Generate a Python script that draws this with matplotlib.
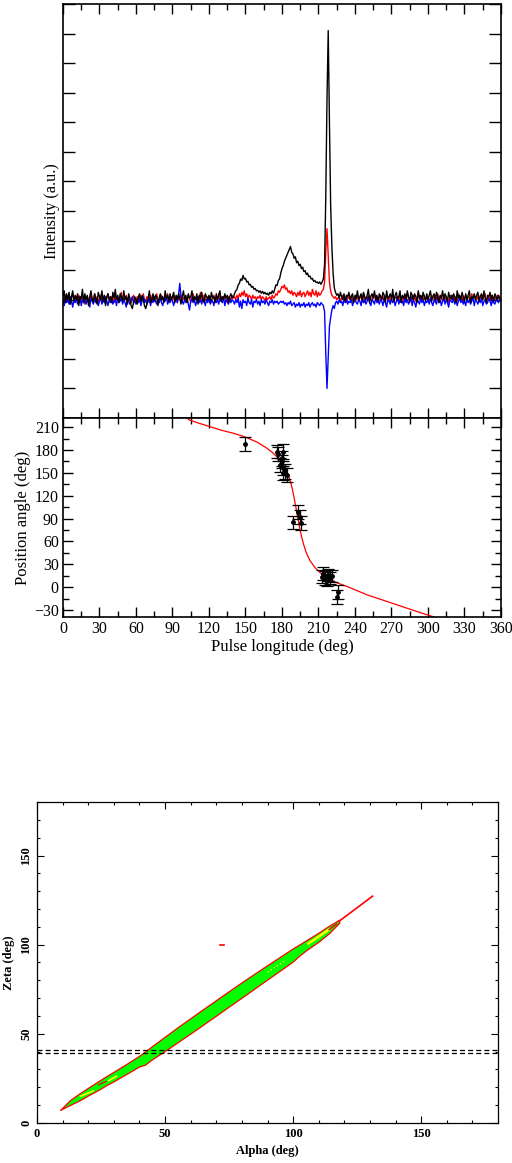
import matplotlib
matplotlib.use("Agg")
import matplotlib.pyplot as plt
from matplotlib.ticker import MultipleLocator
import numpy as np

plt.rcParams['font.family'] = ['Liberation Serif', 'DejaVu Serif']

# ---- pulse profile, 1 deg bins (0..359), arbitrary units ----
stokes_i = [
    0.10, 0.30, -0.10, 0.20, 0.00, 0.25, -0.15, 0.10, 0.30, -0.05, 0.15, 0.00, 0.20, -0.20, 0.10, 0.05, 0.35, -0.10, 0.20, 0.00,
    0.15, -0.20, 0.10, 0.30, 0.00, -0.10, 0.20, 0.05, -0.15, 0.25, 0.10, 0.00, 0.30, -0.05, 0.15, -0.20, 0.10, 0.20, 0.00, 0.10,
    -0.10, 0.25, 0.05, 0.35, 0.00, 0.15, -0.10, 0.20, 0.10, -0.05, 0.30, 0.00, 0.10, -0.15, 0.20, 0.05, -0.20, -0.30, -0.10, 0.10,
    0.00, -0.15, 0.10, 0.20, -0.05, 0.15, 0.00, -0.20, -0.30, -0.15, 0.05, 0.30, -0.10, 0.00, 0.20, -0.05, 0.15, 0.10, -0.20, 0.05,
    0.20, 0.00, 0.10, -0.10, 0.30, 0.05, 0.15, -0.05, 0.20, 0.00, 0.10, 0.25, -0.10, 0.15, 0.00, 0.20, 0.05, -0.15, 0.10, 0.30,
    0.00, 0.15, -0.10, 0.20, 0.05, 0.10, 0.30, -0.05, 0.10, 0.00, 0.20, -0.15, 0.15, 0.05, 0.25, 0.00, -0.10, 0.20, 0.10, 0.00,
    0.15, -0.05, 0.25, 0.05, 0.10, -0.10, 0.20, 0.00, 0.15, 0.30, -0.05, 0.10, 0.00, 0.20, 0.05, 0.15, -0.10, 0.10, 0.20, 0.05,
    0.10, 0.20, 0.30, 0.35, 0.50, 0.55, 0.70, 0.65, 0.82, 0.70, 0.72, 0.60, 0.62, 0.50, 0.52, 0.42, 0.45, 0.35, 0.38, 0.30,
    0.32, 0.25, 0.30, 0.22, 0.28, 0.20, 0.25, 0.18, 0.22, 0.15, 0.25, 0.20, 0.30, 0.22, 0.35, 0.50, 0.48, 0.65, 0.70, 0.90,
    1.05, 1.15, 1.30, 1.40, 1.50, 1.60, 1.70, 1.80, 1.60, 1.55, 1.40, 1.45, 1.25, 1.30, 1.15, 1.20, 1.05, 1.10, 0.95, 0.98,
    0.85, 0.90, 0.78, 0.80, 0.70, 0.72, 0.62, 0.65, 0.58, 0.60, 0.55, 0.60, 0.52, 0.60, 0.70, 1.20, 3.50, 6.80, 9.10, 6.00,
    3.20, 1.80, 0.90, 0.40, 0.25, 0.15, 0.20, 0.05, 0.25, 0.10, 0.00, 0.20, -0.05, 0.15, 0.10, 0.25, 0.00, 0.10, 0.20, -0.10,
    0.15, 0.05, 0.30, 0.00, 0.10, 0.20, -0.05, 0.25, 0.10, 0.00, 0.15, 0.35, -0.10, 0.10, 0.20, 0.05, 0.30, 0.00, 0.15, -0.05,
    0.20, 0.10, 0.00, 0.25, 0.15, -0.10, 0.30, 0.05, 0.10, 0.20, 0.00, 0.35, -0.05, 0.15, 0.25, 0.00, 0.10, 0.30, -0.10, 0.15,
    0.05, 0.20, 0.00, 0.30, 0.10, -0.05, 0.25, 0.15, 0.00, 0.20, 0.10, -0.10, 0.30, 0.05, 0.15, 0.00, 0.25, 0.10, -0.05, 0.20,
    0.00, 0.15, 0.30, -0.05, 0.10, 0.20, 0.00, 0.25, 0.10, -0.10, 0.15, 0.05, 0.30, 0.00, 0.20, 0.10, -0.05, 0.25, 0.05, 0.15,
    0.00, 0.20, 0.10, -0.10, 0.30, 0.05, 0.15, 0.00, 0.25, 0.10, -0.05, 0.20, 0.00, 0.15, 0.30, -0.10, 0.10, 0.05, 0.20, 0.00,
    0.15, 0.25, -0.05, 0.10, 0.20, 0.00, 0.30, 0.05, -0.10, 0.15, 0.10, 0.25, 0.00, 0.15, -0.05, 0.20, 0.10, 0.00, 0.15, 0.05,
]

stokes_l = [
    0.05, -0.10, 0.15, 0.00, -0.05, 0.10, -0.15, 0.05, 0.20, -0.05, 0.00, 0.10, -0.10, 0.15, 0.05, -0.05, 0.10, 0.00, -0.15, 0.05,
    0.10, 0.00, -0.10, 0.15, 0.05, -0.05, 0.20, 0.00, 0.10, -0.10, 0.05, 0.15, -0.05, 0.00, 0.10, -0.15, 0.05, 0.20, 0.00, -0.05,
    0.10, 0.05, -0.10, 0.15, 0.00, 0.05, -0.05, 0.10, 0.25, -0.10, 0.05, 0.00, 0.15, -0.05, 0.10, 0.00, -0.10, 0.05, 0.15, 0.00,
    -0.05, 0.10, 0.00, 0.15, -0.10, 0.05, 0.20, 0.00, -0.05, 0.10, 0.05, -0.10, 0.15, 0.00, 0.05, -0.05, 0.10, 0.20, 0.00, -0.10,
    0.05, 0.15, 0.00, -0.05, 0.10, 0.00, 0.20, -0.10, 0.05, 0.10, -0.05, 0.15, 0.00, 0.05, -0.10, 0.10, 0.00, 0.15, -0.05, 0.05,
    0.10, -0.05, 0.00, 0.15, 0.05, -0.10, 0.10, 0.20, 0.00, 0.05, -0.05, 0.10, 0.00, 0.25, -0.10, 0.05, 0.15, 0.00, -0.05, 0.10,
    0.00, 0.10, -0.10, 0.05, 0.15, 0.00, 0.05, -0.05, 0.20, 0.00, 0.10, -0.05, 0.05, 0.15, 0.00, -0.10, 0.10, 0.05, 0.00, 0.15,
    0.05, 0.10, 0.00, 0.15, 0.05, 0.20, 0.10, 0.25, 0.15, 0.30, 0.10, 0.20, 0.05, 0.15, 0.10, 0.00, 0.15, 0.05, 0.10, 0.00,
    0.10, 0.05, 0.15, 0.00, 0.10, 0.05, -0.05, 0.10, 0.00, 0.05, 0.10, 0.00, 0.15, 0.05, 0.10, 0.20, 0.15, 0.30, 0.25, 0.35,
    0.45, 0.40, 0.50, 0.35, 0.40, 0.25, 0.30, 0.20, 0.30, 0.15, 0.25, 0.20, 0.10, 0.25, 0.15, 0.30, 0.10, 0.20, 0.25, 0.10,
    0.20, 0.30, 0.15, 0.25, 0.10, 0.35, 0.20, 0.15, 0.30, 0.10, 0.25, 0.15, 0.20, 0.30, 0.35, 0.60, 1.60, 2.40, 1.50, 0.60,
    0.30, 0.15, 0.10, 0.05, 0.10, 0.00, 0.05, 0.10, -0.05, 0.05, 0.15, 0.00, 0.05, -0.10, 0.10, 0.05, 0.00, 0.15, -0.05, 0.05,
    0.10, 0.00, 0.15, -0.05, 0.05, 0.10, 0.00, 0.20, -0.10, 0.05, 0.10, 0.00, 0.15, 0.05, -0.05, 0.10, 0.20, 0.00, 0.05, -0.10,
    0.05, 0.15, 0.00, 0.10, -0.05, 0.05, 0.20, 0.00, 0.10, -0.10, 0.05, 0.15, 0.00, 0.05, 0.10, -0.05, 0.00, 0.15, 0.05, 0.10,
    -0.05, 0.10, 0.00, 0.20, 0.05, -0.10, 0.10, 0.00, 0.15, 0.05, -0.05, 0.10, 0.25, 0.00, 0.05, 0.10, -0.05, 0.15, 0.00, 0.05,
    0.10, 0.00, -0.05, 0.15, 0.05, 0.10, -0.10, 0.05, 0.20, 0.00, 0.10, 0.05, -0.05, 0.15, 0.00, 0.10, 0.05, -0.10, 0.10, 0.00,
    0.15, 0.05, 0.00, 0.10, -0.05, 0.20, 0.05, 0.00, 0.10, -0.10, 0.05, 0.15, 0.00, 0.10, 0.05, -0.05, 0.20, 0.00, 0.10, 0.05,
    0.00, 0.10, -0.05, 0.15, 0.05, 0.00, 0.10, 0.20, -0.05, 0.05, 0.10, 0.00, 0.15, -0.10, 0.05, 0.10, 0.00, 0.15, 0.05, 0.00,
]

stokes_v = [
    -0.05, -0.20, 0.05, -0.10, 0.00, -0.15, 0.10, -0.05, -0.25, 0.00, -0.10, 0.05, -0.15, -0.05, 0.10, -0.20, 0.00, -0.10, 0.05, -0.15,
    0.00, -0.10, -0.25, 0.05, -0.05, -0.15, 0.10, -0.10, 0.00, -0.20, -0.05, 0.05, -0.15, 0.00, -0.10, 0.10, -0.05, -0.20, 0.00, -0.10,
    0.05, -0.15, -0.05, 0.00, -0.20, 0.05, -0.10, -0.05, 0.10, -0.15, 0.00, -0.10, -0.25, 0.05, -0.05, -0.15, 0.00, 0.10, -0.10, -0.05,
    -0.15, 0.00, -0.10, 0.05, -0.20, -0.05, 0.10, -0.10, 0.00, -0.15, -0.05, 0.05, -0.20, 0.00, -0.10, 0.10, -0.05, -0.15, 0.00, -0.10,
    0.05, -0.10, -0.20, 0.00, -0.05, 0.10, -0.15, 0.00, -0.10, 0.05, -0.05, -0.20, 0.00, 0.10, -0.10, 0.15, 0.55, 0.10, -0.05, -0.15,
    0.00, -0.10, 0.05, -0.15, -0.35, -0.05, 0.05, -0.10, 0.00, -0.20, -0.05, 0.10, -0.10, 0.00, -0.15, 0.05, -0.05, -0.20, 0.00, -0.10,
    0.05, -0.15, 0.00, -0.05, -0.20, 0.05, -0.10, 0.00, -0.15, 0.05, -0.05, -0.10, 0.10, -0.20, 0.00, -0.05, -0.15, 0.05, -0.10, 0.00,
    -0.05, -0.15, 0.00, -0.10, 0.05, -0.25, -0.05, -0.30, 0.00, -0.10, -0.05, -0.20, 0.05, -0.10, -0.15, 0.00, -0.25, -0.05, -0.10, 0.00,
    -0.15, -0.05, -0.20, 0.00, -0.10, -0.05, -0.15, 0.00, -0.10, -0.20, -0.05, -0.10, 0.00, -0.15, -0.05, -0.10, -0.05, -0.15, -0.10, -0.05,
    -0.10, -0.05, -0.15, -0.10, -0.20, -0.10, -0.15, -0.05, -0.20, -0.15, -0.10, -0.25, -0.15, -0.20, -0.10, -0.25, -0.15, -0.20, -0.10, -0.25,
    -0.15, -0.20, -0.10, -0.25, -0.15, -0.10, -0.20, -0.15, -0.25, -0.10, -0.15, -0.20, -0.10, -0.15, -0.20, -0.40, -1.80, -3.00, -1.90, -0.90,
    -0.60, -0.35, -0.20, -0.30, -0.10, -0.05, -0.15, 0.00, -0.10, -0.05, -0.20, 0.00, -0.10, 0.05, -0.15, -0.05, -0.10, 0.00, -0.20, -0.05,
    0.05, -0.10, -0.15, 0.00, -0.05, -0.20, 0.05, -0.10, 0.00, -0.15, -0.05, 0.10, -0.10, -0.20, 0.00, -0.05, -0.15, 0.05, -0.10, 0.00,
    -0.15, 0.00, -0.05, -0.20, 0.05, -0.10, -0.25, 0.00, -0.05, -0.15, 0.05, -0.10, 0.00, -0.20, -0.05, 0.10, -0.15, 0.00, -0.10, -0.05,
    -0.20, 0.05, -0.10, 0.00, -0.15, -0.05, 0.10, -0.20, 0.00, -0.10, -0.25, 0.00, -0.05, -0.15, 0.05, -0.10, 0.00, -0.20, -0.05, -0.10,
    0.00, -0.15, 0.05, -0.10, -0.20, 0.00, -0.05, -0.15, 0.10, -0.10, 0.00, -0.20, -0.05, 0.05, -0.15, 0.00, -0.10, -0.25, 0.00, -0.05,
    -0.10, 0.05, -0.15, 0.00, -0.20, -0.05, 0.05, -0.10, 0.00, -0.15, -0.05, -0.20, 0.05, -0.10, 0.00, -0.15, -0.05, 0.10, -0.20, 0.00,
    -0.05, -0.15, 0.00, -0.10, 0.05, -0.20, -0.05, 0.00, -0.15, -0.10, 0.05, -0.05, -0.20, 0.00, -0.10, -0.15, 0.00, -0.05, -0.10, 0.00,
]

# ---- position angle points (lon, PA, error) ----
pa_lon = [149.6, 175.6, 176.5, 181.0, 178.4, 179.8, 179.8, 181.0, 182.5, 183.8, 180.5,
          189.3, 192.8, 194.7, 195.5,
          212.6, 214.0, 215.3, 216.7, 218.0, 219.3, 220.7, 224.9, 226.3]
pa_val = [188, 178, 175, 178, 160, 169, 165, 156, 152, 147, 150,
          85, 99, 92, 84,
          14, 18, 12, 10, 16, 12, 15, -13, -6]
pa_err = [9, 9, 9, 10, 9, 10, 9, 9, 10, 9, 9,
          9, 9, 9, 9,
          9, 8, 9, 8, 8, 8, 8, 9, 9]

# ---- RVM fit curve ----
rvm_lon = [103, 110, 120, 130, 140, 150, 160, 167, 172, 176, 180, 183, 185, 187, 188.5,
           190, 191.5, 193, 194.5, 196, 198, 200, 203, 207, 212, 218, 225, 235, 250,
           265, 280, 295, 305]
rvm_pa = [220, 216, 211, 206, 202, 197, 190, 183, 177, 171, 163, 155, 148, 138, 129,
          117, 104, 91, 78, 67, 55, 45, 35, 26, 18, 12, 6, 0, -10,
          -18, -26, -34, -39]

# ---- alpha-zeta chi-square band ----
band_alpha = [9, 13, 17, 20, 24, 27, 30, 35, 40, 42, 45, 50, 55, 60, 65, 70, 75, 80,
              85, 90, 95, 100, 102, 105, 110, 114, 118]
band_upper = [7.3, 13.0, 17.0, 19.8, 23.5, 26.2, 28.8, 33.2, 37.8, 39.9, 43.2, 48.5, 53.8,
              58.9, 64.0, 69.0, 74.0, 79.0, 83.8, 88.6, 93.3, 98.0, 99.7, 102.4, 106.8,
              110.6, 114.0]
band_lower = [7.3, 10.2, 13.0, 15.5, 18.6, 21.2, 23.5, 27.6, 31.8, 32.6, 35.8, 40.5, 45.4,
              50.3, 55.3, 60.3, 65.4, 70.4, 75.5, 80.6, 85.6, 90.7, 93.4, 96.8, 101.8,
              106.4, 112.3]
line_alpha = [118, 131]
line_zeta = [113.2, 127.2]
zeta_lines = [39.4, 40.9]

fig = plt.figure(figsize=(5.12, 11.63), dpi=100)

# ---------------- profile ----------------
ax1 = fig.add_axes([0.1230, 0.6406, 0.8555, 0.3560])
ax1.plot(np.arange(len(stokes_l)), stokes_l, color='red', lw=1.0)
ax1.plot(np.arange(len(stokes_v)), stokes_v, color='blue', lw=1.0)
ax1.plot(np.arange(len(stokes_i)), stokes_i, color='black', lw=1.0)
ax1.set_xlim(0, 360)
ax1.set_ylim(-4, 10)
ax1.xaxis.set_major_locator(MultipleLocator(30))
ax1.xaxis.set_minor_locator(MultipleLocator(15))
ax1.yaxis.set_major_locator(MultipleLocator(1))
ax1.tick_params(which='both', direction='in', top=True, right=True,
                labelbottom=False, labelleft=False, width=1)
ax1.tick_params(axis='y', which='major', length=8.5)
ax1.tick_params(axis='x', which='major', length=7)
ax1.tick_params(axis='x', which='minor', length=4)
ax1.set_ylabel('Intensity (a.u.)', fontsize=11.7, labelpad=2)
for s in ax1.spines.values():
    s.set_linewidth(1.2)

# ---------------- position angle ----------------
ax2 = fig.add_axes([0.1230, 0.4695, 0.8555, 0.1711])
ax2.plot(rvm_lon, rvm_pa, color='red', lw=0.9)
ax2.errorbar(pa_lon, pa_val, yerr=pa_err, fmt='o', color='black', ms=2.5,
             capsize=4, elinewidth=0.9, capthick=0.9)
ax2.set_xlim(0, 360)
ax2.set_ylim(-39, 222)
ax2.xaxis.set_major_locator(MultipleLocator(30))
ax2.xaxis.set_minor_locator(MultipleLocator(15))
ax2.yaxis.set_major_locator(MultipleLocator(30))
ax2.yaxis.set_minor_locator(MultipleLocator(15))
ax2.tick_params(which='both', direction='in', top=True, right=True, width=1,
                labelsize=11.5, pad=3)
ax2.tick_params(which='major', length=7)
ax2.tick_params(which='minor', length=4)
ax2.set_xlabel('Pulse longitude (deg)', fontsize=12, labelpad=1)
ax2.set_ylabel('Position angle (deg)', fontsize=12, labelpad=2)
for s in ax2.spines.values():
    s.set_linewidth(1.2)

# ---------------- alpha-zeta map ----------------
ax3 = fig.add_axes([0.0723, 0.0344, 0.9004, 0.2760])
ax3.fill_between(band_alpha, band_lower, band_upper, facecolor='#00ff00',
                 edgecolor='#ff0000', lw=0.9)
ax3.plot(line_alpha, line_zeta, color='#ff0000', lw=1.2)
ax3.plot([17, 22], [15.0, 18.0], color='#ffff00', lw=1.2)
ax3.plot([28, 31], [23.8, 26.2], color='#ffff00', lw=1.2)
ax3.plot([24, 27], [21.5, 23.3], color='#ff0000', lw=0.9)
ax3.plot([90, 97], [84.6, 91.2], color='#ffff00', lw=1.0, ls=':')
ax3.plot([106, 114], [100.6, 108.5], color='#ffff00', lw=1.8)
ax3.plot([114, 117], [108.4, 111.6], color='#ff0000', lw=1.0)
ax3.plot([71.5, 73.0], [100, 100], color='#ff0000', lw=1.2)
for z in zeta_lines:
    ax3.axhline(z, color='black', lw=0.9, dashes=(4, 2.5))
ax3.set_xlim(0, 180)
ax3.set_ylim(0, 180)
ax3.xaxis.set_major_locator(MultipleLocator(50))
ax3.xaxis.set_minor_locator(MultipleLocator(10))
ax3.yaxis.set_major_locator(MultipleLocator(50))
ax3.yaxis.set_minor_locator(MultipleLocator(10))
ax3.tick_params(which='both', direction='in', top=True, right=True, width=0.8,
                labelsize=9)
ax3.tick_params(which='major', length=5)
ax3.tick_params(which='minor', length=2.5)
for lab in ax3.get_xticklabels() + ax3.get_yticklabels():
    lab.set_fontweight('bold')
for lab in ax3.get_yticklabels():
    lab.set_rotation(90)
    lab.set_va('center')
ax3.set_xlabel('Alpha (deg)', fontsize=9, fontweight='bold', labelpad=4)
ax3.set_ylabel('Zeta (deg)', fontsize=9, fontweight='bold', labelpad=4)
for s in ax3.spines.values():
    s.set_linewidth(0.9)

fig.savefig('out.png', dpi=100)
